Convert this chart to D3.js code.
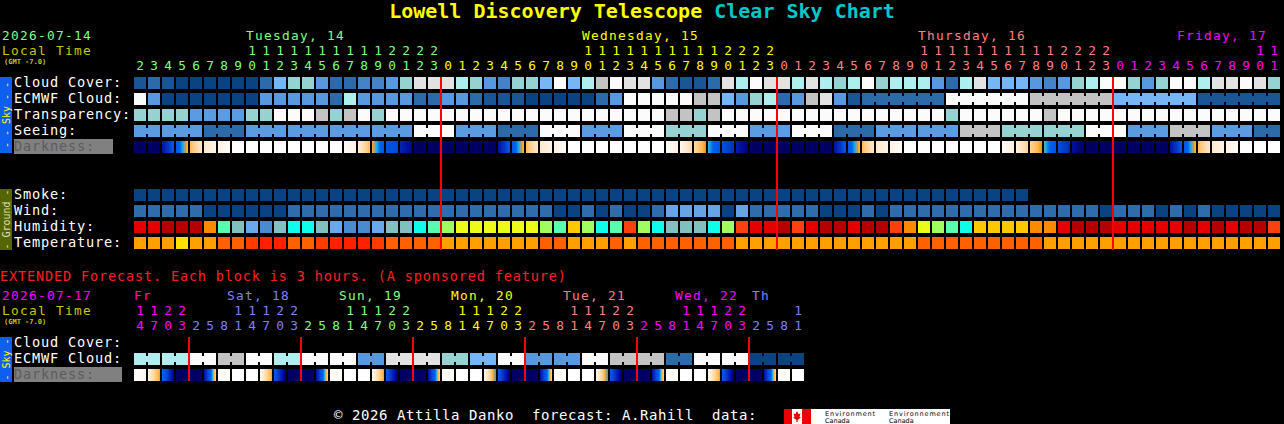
<!DOCTYPE html>
<html><head><meta charset="utf-8">
<script src="https://cdn.jsdelivr.net/npm/d3@7"></script>
<style>
html,body{margin:0;padding:0;background:#000;overflow:hidden}
svg{display:block}
text{font-family:"DejaVu Sans Mono",monospace;white-space:pre}
</style>
</head><body>
<svg id="c" width="1284" height="424"></svg>
<script>
// ---------------- DATA ----------------
const mainDayLabels = ["Tuesday, 14", "Wednesday, 15", "Thursday, 16", "Friday, 17"];
const mainDayHourSpan = [[2, 23], [0, 23], [0, 23], [0, 11]];
const extDayLabels = ["Fr", "Sat, 18", "Sun, 19", "Mon, 20", "Tue, 21", "Wed, 22", "Th"];
const extDayHourSpan = [[14, 23], [2, 23], [2, 23], [2, 23], [2, 23], [2, 23], [2, 11]];
const extStepHours = 3;

// cloud cover in tenths (0 clear .. 10 overcast)
const cloudCover = [9,8,9,10,10,10,10,10,10,8,5,4,4,6,8,8,7,7,6,4,1,1,
  1,3,4,6,7,4,4,5,0,5,3,2,0,1,1,6,8,9,9,8,1,3,0,1,
  1,3,1,3,4,3,0,4,3,3,3,6,8,3,1,5,5,5,6,7,6,4,3,0,
  0,4,6,4,0,0,3,1,1,0,1,4];
// ECMWF cloud: hourly part, then 6-hour blocks
const ecmwfHourly = [0,6,10,10,10,10,10,10,10,6,6,6,6,6,8,3,6,6,6,6,8,8,
  6,6,8,9,9,9,10,10,10,10,10,8,6,0,0,0,0,0,2,2,5,6,4,3,
  8,6,2,1,6,9];
const ecmwf6h = [8, 0, 2, 5, 9];
// transparency 0 too cloudy .. 5 transparent
const transparency = [2,2,2,2,3,3,3,3,2,2,0,0,0,1,2,1,0,2,0,0,0,0,
  0,0,0,0,0,0,0,0,0,0,0,0,0,0,0,0,1,1,2,1,0,0,0,0,
  0,0,0,0,0,0,0,0,0,0,0,0,2,0,0,0,0,0,0,1,0,0,0,0,
  0,0,0,0,0,0,0,0,0,0,0,0];
// seeing in 3-hour blocks (first block truncated), 0 too cloudy .. 5 excellent
const seeing3h = [3,3,4,3,3,3,3,0,3,4,0,3,0,2,0,3,0,4,3,3,1,2,2,0,3,1,3,4];
// darkness level at start and end of each hour (0 day .. 8 full dark)
const darkness = [
  [8,8],[8,8],[7,4.6],[4.6,2.7],[2.6,1.3],[1.3,0.8],[0.8,0.2],[0,0],[0,0],[0,0],[0,0],[0,0],[0,0],[0,0],[0,0],
  [0.2,0.8],[1,2.6],[2.8,4.6],[4.7,5.3],[6.3,7.5],[8,8],[8,8],
  [8,8],[8,8],[8,8],[8,8],[7,4.6],[4.6,2.7],[2.6,1.3],[1.3,0.8],[0.8,0.2],[0,0],[0,0],[0,0],[0,0],[0,0],[0,0],[0,0],
  [0.2,0.8],[0.6,1.8],[1.8,3.1],[3.4,4.8],[5,6],[6.5,7.8],[8,8],[8,8],
  [8,8],[8,8],[8,8],[8,8],[7,4.6],[4.6,2.7],[2.6,1.3],[1.3,0.8],[0.8,0.2],[0,0],[0,0],[0,0],[0,0],[0,0],[0,0],[0,0],
  [0.2,0.9],[0.9,2],[2,3.1],[3.3,4.8],[5,6.2],[7,8],[8,8],[8,8],
  [8,8],[8,8],[8,8],[8,8],[7,4.6],[4.6,2.7],[2.6,1.3],[1.3,0.8],[0.8,0.2],[0,0],[0,0],[0,0]];
const smoke = [0,0,0,0,0,0,0,0,0,0,0,0,0,0,0,0,0,0,0,0,0,0,0,0,0,0,0,0,0,0,0,0,
  0,0,0,0,0,0,0,0,0,0,0,0,0,0,0,0,0,0,0,0,0,0,0,0,0,0,0,0,0,0,0,0];
// wind class 0 calm, 1 light, 2 moderate
const wind = [1,1,1,1,1,0,0,0,0,0,0,1,1,1,1,1,1,1,1,1,1,1,
  1,1,1,1,1,1,1,1,0,0,1,0,1,0,0,1,2,2,2,2,0,2,1,1,
  1,1,1,0,0,0,1,0,1,1,1,1,1,1,1,1,1,1,1,1,1,1,1,0,
  1,1,1,0,1,0,1,0,0,0,0,0];
// humidity class 0 (dry) .. 11 (saturated)
const humidity = [10,10,11,11,11,8,4,2,1,0,2,3,3,2,1,0,0,1,2,2,3,4,
  5,6,6,6,6,6,6,5,4,7,5,3,4,9,5,3,2,2,2,3,5,9,10,10,
  11,9,10,11,11,10,11,11,9,8,6,5,4,3,7,7,7,7,8,8,10,11,11,11,
  10,10,10,10,10,11,10,11,10,11,11,9];
// temperature class 0 (coolest) .. 4 (hottest)
const temperature = [1,1,1,0,1,1,2,2,3,4,4,2,2,3,4,4,4,3,2,2,2,2,
  1,1,1,1,1,1,1,2,2,1,1,1,2,1,2,2,2,2,2,2,2,1,1,1,
  1,1,1,1,1,1,1,1,1,1,2,2,2,2,2,2,2,2,2,1,1,1,1,1,
  1,1,1,1,1,1,1,1,1,1,1,1];
// extended: ECMWF cloud per 6 hours, darkness per 3-hour block
const extEcmwf = [3,3,0,2,0,3,0,0,6,1,1,4,5,0,6,6,0,2,2,8,0,0,10,10];
const extDarkness = [
  [0,0.6],[0.8,3],[3.8,7.5],[8,8],
  [8,8],[7,2],[0.4,0],[0,0],[0,0],[0.5,3],[4.3,8],[8,8],
  [8,8],[7,2],[0.4,0],[0,0],[0,0],[0.5,3],[4.3,8],[8,8],
  [8,8],[7,2],[0.4,0],[0,0],[0,0],[0.5,3.6],[4.3,8],[8,8],
  [8,8],[7,2],[0.4,0],[0,0],[0,0],[0.5,3.6],[4.3,8],[8,8],
  [8,8],[7,2],[0.4,0],[0,0],[0,0],[0.5,3],[4.3,8],[8,8],
  [8,8],[7,2],[0.4,0],[0,0]];

// ---------------- STYLE ----------------
const mainDayColors = ["#80ff80", "#ffff00", "#ff8080", "#ff00ff"];
const extDayColors = ["#ff00ff", "#8080ff", "#80ff80", "#ffff00", "#ff8080", "#ff00ff", "#8080ff"];
const cloudColors = ["#fbfbfb","#e2e2e2","#c3c3c3","#aeeeee","#96d2d2","#76b6f6","#5898de","#4682c8","#2c6aaa","#1a5596","#0a4282"];
const skyColors = ["#fbfbfb","#c3c3c3","#96d2d2","#5b9be1","#2c6aaa","#0a4282"];
const windColors = ["#0a4282","#2e6cac","#66a4e6"];
const humColors = ["#4a8ad0","#6aa8ee","#82c0c0","#10fcea","#58fcb0","#a0fc60","#ecfc18","#fcc800","#fc8a00","#fc4010","#e40000","#b40000"];
const tempColors = ["#ffe000","#ffa000","#ff6000","#ff3c00","#ff2000"];
const darkColor = d3.scaleLinear()
  .domain([0, 1, 2, 2.7, 3, 3.5, 4, 5, 6, 7, 8])
  .range(["#ffffff","#fff0dc","#ffd49a","#ffb850","#f09a28","#18b0f0","#0062ea","#0050e0","#0030b8","#0010a0","#000062"])
  .clamp(true);

const X0 = 134, STEP = 14, BH = 12;
const CHAR_W = 9;          // advance of the chart's monospace text
const STACK_FS = 12.8;     // lines 15px apart
const ROW_FS = 13.6;       // lines 16px apart

// ---------------- BUILD ----------------
const svg = d3.select("#c");
const defs = svg.append("defs");
svg.append("rect").attr("width", 1284).attr("height", 424).attr("fill", "#000");

const mainHours = mainDayHourSpan.flatMap(s => d3.range(s[0], s[1] + 1));
const mainDayOf = mainDayHourSpan.flatMap((s, d) => d3.range(s[0], s[1] + 1).map(() => d));
const extHours = extDayHourSpan.flatMap(s => d3.range(s[0], s[1] + 1, extStepHours));
const extDayOf = extDayHourSpan.flatMap((s, d) => d3.range(s[0], s[1] + 1, extStepHours).map(() => d));

const nMain = mainHours.length, nExt = extHours.length;
const x = d3.scaleBand().domain(d3.range(nMain)).range([X0, X0 + nMain * STEP - 2]).paddingInner(2 / STEP).paddingOuter(0);
const xe = d3.scaleBand().domain(d3.range(nExt)).range([X0, X0 + nExt * STEP - 2]).paddingInner(2 / STEP).paddingOuter(0);
const BW = x.bandwidth();

// monospaced label with a fixed 9px advance
function txt(g, s, px, py, fill, size) {
  size = size || STACK_FS;
  return g.append("text").attr("x", px).attr("y", py).attr("fill", fill)
    .attr("font-size", size).attr("letter-spacing", (CHAR_W - size * 0.602).toFixed(2)).text(s);
}
// single digit, centred
function digit(g, s, cx, py, fill) {
  return g.append("text").attr("x", cx).attr("y", py).attr("fill", fill)
    .attr("text-anchor", "middle").attr("font-size", STACK_FS).text(s);
}

// Title
const title = svg.append("text").attr("x", 642).attr("y", 18).attr("text-anchor", "middle")
  .attr("font-size", 20).attr("font-weight", "bold");
title.append("tspan").attr("fill", "#ffff00").text("Lowell Discovery Telescope ");
title.append("tspan").attr("fill", "#00c8c8").text("Clear Sky Chart");

function cellRow(g, xs, vals, top, colors) {
  g.append("g").selectAll("rect").data(vals).join("rect")
    .attr("x", (d, i) => xs(i)).attr("y", top).attr("width", xs.bandwidth()).attr("height", BH)
    .attr("fill", d => colors[d]).attr("shape-rendering", "crispEdges");
}
function groupRow(g, xs, groups, top, colors) {
  const gg = g.append("g");
  groups.forEach(gr => {
    for (let i = gr.start; i <= gr.end; i++) {
      gg.append("rect").attr("x", xs(i)).attr("y", top).attr("width", xs.bandwidth()).attr("height", BH)
        .attr("fill", colors[gr.value]).attr("shape-rendering", "crispEdges");
      if (i < gr.end) {
        gg.append("rect").attr("x", xs(i) + xs.bandwidth()).attr("y", top + 3)
          .attr("width", xs.step() - xs.bandwidth()).attr("height", BH - 6)
          .attr("fill", colors[gr.value]).attr("shape-rendering", "crispEdges");
      }
    }
  });
}
let gradId = 0;
function darkRow(g, xs, pairs, top) {
  const gg = g.append("g");
  pairs.forEach((p, i) => {
    let fill;
    if (p[0] === p[1]) fill = darkColor(p[0]);
    else {
      const id = "dk" + (gradId++);
      const grad = defs.append("linearGradient").attr("id", id).attr("x1", 0).attr("x2", 1).attr("y1", 0).attr("y2", 0);
      const n = 12;
      for (let k = 0; k < n; k++) {
        const t = (k + 0.5) / n;
        const c = darkColor(p[0] + (p[1] - p[0]) * t);
        grad.append("stop").attr("offset", k / n).attr("stop-color", c);
        grad.append("stop").attr("offset", (k + 1) / n).attr("stop-color", c);
      }
      fill = "url(#" + id + ")";
    }
    gg.append("rect").attr("x", xs(i)).attr("y", top).attr("width", xs.bandwidth()).attr("height", BH)
      .attr("fill", fill).attr("shape-rendering", "crispEdges");
  });
}

function sideBar(yTop, yBot, color, label, textColor) {
  svg.append("rect").attr("x", 0).attr("y", yTop).attr("width", 12).attr("height", yBot - yTop).attr("fill", color);
  svg.append("text").attr("transform", `translate(9.5,${(yTop + yBot) / 2}) rotate(-90)`)
    .attr("text-anchor", "middle").attr("font-size", 10).attr("fill", textColor).text(label);
}

// ---------- MAIN CHART ----------
txt(svg, "2026-07-14", 2, 40, "#80ff80");
txt(svg, "Local Time", 2, 55, "#c8c800");
svg.append("text").attr("x", 4).attr("y", 64).attr("fill", "#c8c800").attr("font-size", 7)
  .attr("font-weight", "bold").text("(GMT -7.0)");

mainDayLabels.forEach((lab, d) => {
  const idx = mainHours.findIndex((h, i) => mainDayOf[i] === d && h === 10);
  const w = lab.length * CHAR_W;
  let px = idx >= 0 ? x(idx) : x(mainDayOf.indexOf(d));
  px = Math.min(px, 1267 - w);
  txt(svg, lab, px, 40, mainDayColors[d]);
});
const hg = svg.append("g");
mainHours.forEach((h, i) => {
  const cx = x(i) + BW / 2, col = mainDayColors[mainDayOf[i]];
  if (h >= 10) digit(hg, String(Math.floor(h / 10)), cx, 55, col);
  digit(hg, String(h % 10), cx, 70, col);
});

const rowTop = { cc: 77, ec: 93, tr: 109, se: 125, dk: 141, sm: 189, wi: 205, hu: 221, te: 237 };
const lg = svg.append("g");
txt(lg, "Cloud Cover:", 14, 87, "#fff", ROW_FS);
txt(lg, "ECMWF Cloud:", 14, 103, "#fff", ROW_FS);
txt(lg, "Transparency:", 14, 119, "#fff", ROW_FS);
txt(lg, "Seeing:", 14, 135, "#fff", ROW_FS);
lg.append("rect").attr("x", 14).attr("y", 139).attr("width", 99).attr("height", 15).attr("fill", "#808080");
txt(lg, "Darkness:", 14, 151, "#5c5c5c", ROW_FS);
txt(lg, "Smoke:", 14, 199, "#fff", ROW_FS);
txt(lg, "Wind:", 14, 215, "#fff", ROW_FS);
txt(lg, "Humidity:", 14, 231, "#fff", ROW_FS);
txt(lg, "Temperature:", 14, 247, "#fff", ROW_FS);

sideBar(77, 153, "#0f5ef2", "- - Sky - -", "#ffff00");
sideBar(189, 250, "#556600", "- Ground -", "#e0e0b0");

const cg = svg.append("g");
cellRow(cg, x, cloudCover, rowTop.cc, cloudColors);
const ecGroups = ecmwfHourly.map((v, i) => ({ start: i, end: i, value: v }));
{
  let s = ecmwfHourly.length;
  ecmwf6h.forEach(v => { ecGroups.push({ start: s, end: Math.min(s + 5, nMain - 1), value: v }); s += 6; });
}
groupRow(cg, x, ecGroups, rowTop.ec, cloudColors);
cellRow(cg, x, transparency, rowTop.tr, skyColors);
const seGroups = [];
{
  let g = -1;
  mainHours.forEach((h, i) => {
    if (i === 0 || h % 3 === 1) { g++; seGroups.push({ start: i, end: i, value: seeing3h[g] }); }
    else seGroups[g].end = i;
  });
}
groupRow(cg, x, seGroups, rowTop.se, skyColors);
darkRow(cg, x, darkness, rowTop.dk);
cellRow(cg, x, smoke, rowTop.sm, ["#0a4282"]);
cellRow(cg, x, wind, rowTop.wi, windColors);
cellRow(cg, x, humidity, rowTop.hu, humColors);
cellRow(cg, x, temperature, rowTop.te, tempColors);

mainHours.forEach((h, i) => {
  if (i > 0 && h === 0)
    svg.append("rect").attr("x", x(i) - 2).attr("y", 77).attr("width", 2).attr("height", 173).attr("fill", "#ff0000");
});

// ---------- EXTENDED ----------
txt(svg, "EXTENDED Forecast. Each block is 3 hours. (A sponsored feature)", 0, 281, "#ff2020", ROW_FS);
txt(svg, "2026-07-17", 2, 300, "#ff00ff");
txt(svg, "Local Time", 2, 315, "#c8c800");
svg.append("text").attr("x", 4).attr("y", 324).attr("fill", "#c8c800").attr("font-size", 7)
  .attr("font-weight", "bold").text("(GMT -7.0)");

extDayLabels.forEach((lab, d) => {
  const first = extDayOf.indexOf(d);
  const count = extDayOf.filter(v => v === d).length;
  const px = count >= 8 ? xe(first) + 2.5 * STEP + 2 : xe(first) + (first > 0 ? 2 : 0);
  txt(svg, lab, px, 300, extDayColors[d]);
});
const ehg = svg.append("g");
extHours.forEach((h, i) => {
  const cx = xe(i) + BW / 2, col = extDayColors[extDayOf[i]];
  if (h >= 10) digit(ehg, String(Math.floor(h / 10)), cx, 315, col);
  digit(ehg, String(h % 10), cx, 330, col);
});

txt(svg, "Cloud Cover:", 14, 347, "#fff", ROW_FS);
txt(svg, "ECMWF Cloud:", 14, 363, "#fff", ROW_FS);
svg.append("rect").attr("x", 14).attr("y", 367).attr("width", 108).attr("height", 15).attr("fill", "#808080");
txt(svg, "Darkness:", 14, 379, "#5c5c5c", ROW_FS);
sideBar(337, 382, "#0f5ef2", "- Sky -", "#ffff00");

const eg = svg.append("g");
const extGroups = extEcmwf.map((v, k) => ({ start: 2 * k, end: 2 * k + 1, value: v }));
groupRow(eg, xe, extGroups, 353, cloudColors);
darkRow(eg, xe, extDarkness, 369);

extHours.forEach((h, i) => {
  if (i > 0 && extDayOf[i] !== extDayOf[i - 1])
    svg.append("rect").attr("x", xe(i) - 2).attr("y", 337).attr("width", 2).attr("height", 44).attr("fill", "#ff0000");
});

// ---------- FOOTER ----------
txt(svg, "\u00a9 2026 Attilla Danko  forecast: A.Rahill  data:", 334, 420, "#ffffff", 14);
const lgo = svg.append("g");
lgo.append("rect").attr("x", 784).attr("y", 409).attr("width", 166).attr("height", 15).attr("fill", "#ffffff");
lgo.append("rect").attr("x", 784).attr("y", 409).attr("width", 8).attr("height", 15).attr("fill", "#ee0000");
lgo.append("rect").attr("x", 802).attr("y", 409).attr("width", 9).attr("height", 15).attr("fill", "#ee0000");
lgo.append("path").attr("d", "M797,411 L798.5,414 L800.5,413.5 L799.5,417 L801,417.5 L797.6,420 L797.6,422 L796.4,422 L796.4,420 L793,417.5 L794.5,417 L793.5,413.5 L795.5,414 Z").attr("fill", "#ee0000");
const lf = "font-family:'DejaVu Sans',sans-serif";
lgo.append("text").attr("x", 825).attr("y", 415.5).attr("font-size", 6.5).attr("style", lf).attr("fill", "#000").attr("textLength", 50).text("Environment");
lgo.append("text").attr("x", 825).attr("y", 423).attr("font-size", 6.5).attr("style", lf).attr("fill", "#000").text("Canada");
lgo.append("text").attr("x", 889).attr("y", 415.5).attr("font-size", 6.5).attr("style", lf).attr("fill", "#000").attr("textLength", 60).text("Environnement");
lgo.append("text").attr("x", 889).attr("y", 423).attr("font-size", 6.5).attr("style", lf).attr("fill", "#000").text("Canada");
</script>
</body></html>
